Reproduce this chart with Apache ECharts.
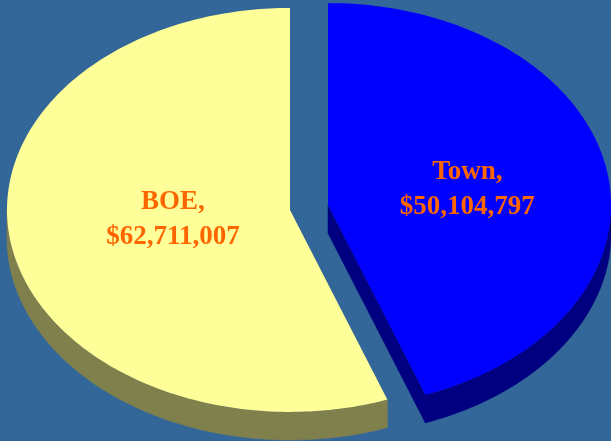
<!DOCTYPE html>
<html>
<head>
<meta charset="utf-8">
<script src="https://cdn.jsdelivr.net/npm/echarts@6/dist/echarts.min.js"></script>
<style>
  html, body { margin: 0; padding: 0; background: #336699; }
  #chart { width: 611px; height: 441px; }
</style>
</head>
<body>
<div id="chart"></div>
<script>
// slices, clockwise from 12 o'clock
const categories = ['Town', 'BOE'];
const amounts = [50104797, 62711007];

const topColors = ['#0000FF', '#FFFF99'];
const sideColors = ['#000080', '#80804D'];
const labelRadius = [0.5, 0.42];
const labelShift = [2, -5];

// ellipse layout of the "3d" pie
const CX = 309, CY = 207.5, RX = 283, RY = 202, DEPTH = 28, EXPLODE = 19.3;

const total = amounts.reduce((a, b) => a + b, 0);

function pt(cx, cy, t, f) {
    const r = t * Math.PI / 180;
    return [cx + Math.sin(r) * RX * f, cy - Math.cos(r) * RY * f];
}

function arc(cx, cy, a, b) {
    const pts = [];
    for (let t = a; t < b; t += 1) pts.push(pt(cx, cy, t, 1));
    pts.push(pt(cx, cy, b, 1));
    return pts;
}

function renderSlice(params, api) {
    const i = params.dataIndex;
    let start = 0;
    for (let j = 0; j < i; j++) start += amounts[j] / total * 360;
    const end = start + amounts[i] / total * 360;
    const mid = (start + end) / 2;
    const mr = mid * Math.PI / 180;
    const cx = CX + Math.sin(mr) * EXPLODE;
    const cy = CY - Math.cos(mr) * EXPLODE * RY / RX;

    const side = { fill: sideColors[i], stroke: sideColors[i], lineWidth: 0.6 };
    const children = [];

    // front rim (only the half facing the viewer)
    const a = Math.max(start, 90), b = Math.min(end, 270);
    if (a < b) {
        const up = arc(cx, cy, a, b);
        const down = up.map(p => [p[0], p[1] + DEPTH]).reverse();
        children.push({ type: 'polygon', shape: { points: up.concat(down) }, style: side });
    }
    // cut faces that look toward us
    const face = function (t) {
        const p1 = pt(cx, cy, t, 1);
        return {
            type: 'polygon',
            shape: { points: [[cx, cy], p1, [p1[0], p1[1] + DEPTH], [cx, cy + DEPTH]] },
            style: side
        };
    };
    if (Math.sin(end * Math.PI / 180) > 0.001) children.push(face(end));
    if (Math.sin(start * Math.PI / 180) < -0.001) children.push(face(start));

    // top
    children.push({
        type: 'polygon',
        shape: { points: [[cx, cy]].concat(arc(cx, cy, start, end)) },
        style: { fill: topColors[i] }
    });

    const lp = pt(cx, cy, mid, labelRadius[i]);
    children.push({
        type: 'text',
        x: lp[0],
        y: lp[1] + labelShift[i],
        style: {
            text: categories[i] + ',\n$' + amounts[i].toLocaleString('en-US'),
            align: 'center',
            verticalAlign: 'middle',
            fontFamily: 'Liberation Serif',
            fontWeight: 'bold',
            fontSize: 27,
            lineHeight: 35,
            fill: '#FF6600'
        }
    });

    return { type: 'group', children: children };
}

const chart = echarts.init(document.getElementById('chart'));
chart.setOption({
    backgroundColor: '#336699',
    animation: false,
    series: [{
        type: 'custom',
        coordinateSystem: 'none',
        silent: true,
        renderItem: renderSlice,
        data: amounts.map((v, i) => [i, v])
    }]
});
</script>
</body>
</html>
